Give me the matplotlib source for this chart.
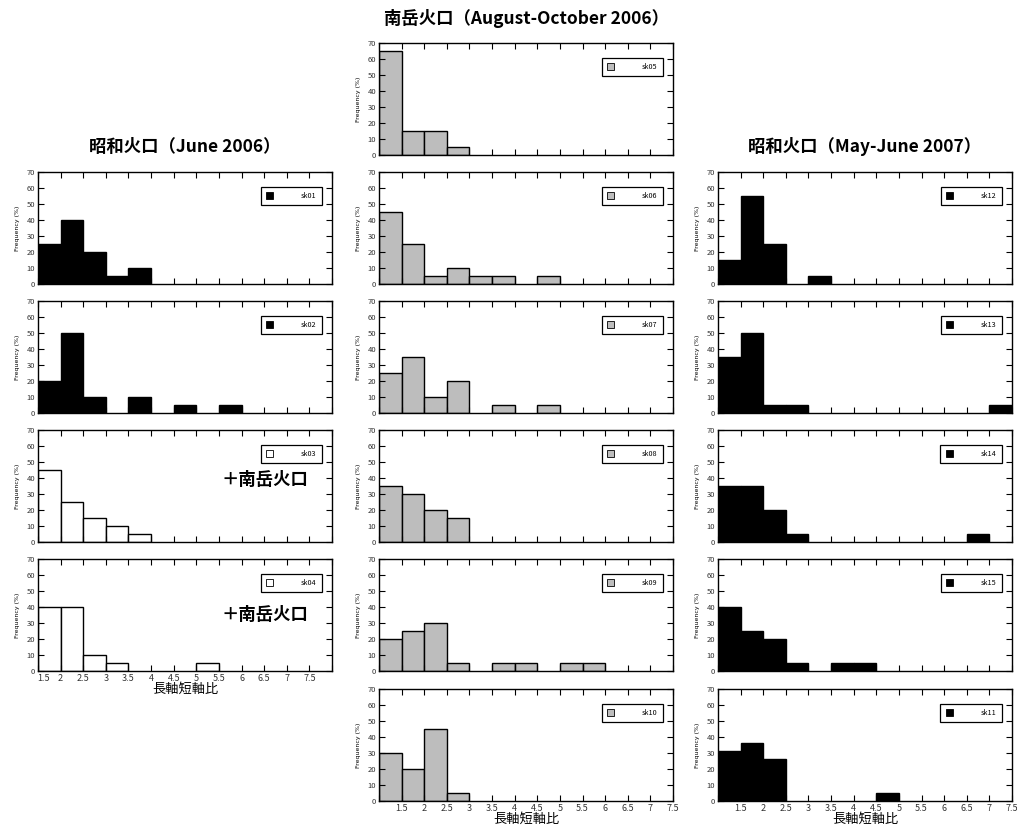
import numpy as np
import matplotlib.pyplot as plt
import matplotlib.transforms as mtransforms
from matplotlib.patches import Patch

plt.rcParams['font.family'] = ['Noto Sans CJK JP', 'DejaVu Sans']

# frequencies (%) per 0.5 bin, showa 2006 bins start at 1.5, others at 1.0
sk01 = [25, 40, 20, 5, 10]
sk02 = [20, 50, 10, 0, 10, 0, 5, 0, 5]
sk03 = [45, 25, 15, 10, 5]
sk04 = [40, 40, 10, 5, 0, 0, 0, 5]

sk05 = [65, 15, 15, 5]
sk06 = [45, 25, 5, 10, 5, 5, 0, 5]
sk07 = [25, 35, 10, 20, 0, 5, 0, 5]
sk08 = [35, 30, 20, 15]
sk09 = [20, 25, 30, 5, 0, 5, 5, 0, 5, 5]
sk10 = [30, 20, 45, 5]

sk12 = [15, 55, 25, 0, 5]
sk13 = [35, 50, 5, 5, 0, 0, 0, 0, 0, 0, 0, 0, 5]
sk14 = [35, 35, 20, 5, 0, 0, 0, 0, 0, 0, 0, 5]
sk15 = [40, 25, 20, 5, 0, 5, 5]
sk11 = [31, 36, 26, 0, 0, 0, 0, 5]

left = [("sk01", sk01), ("sk02", sk02), ("sk03", sk03), ("sk04", sk04)]
left_col = ["black", "black", "white", "white"]
mid = [("sk05", sk05), ("sk06", sk06), ("sk07", sk07), ("sk08", sk08), ("sk09", sk09), ("sk10", sk10)]
right = [("sk12", sk12), ("sk13", sk13), ("sk14", sk14), ("sk15", sk15), ("sk11", sk11)]

W, H = 1017, 832
fig = plt.figure(figsize=(W/100, H/100), dpi=100)

row_tops = [43, 172, 301, 430, 559, 689]
ph = 112
pw = 294

def panel(x0, top, name, vals, color, start, xmax, labels):
    ax = fig.add_axes([x0/W, 1-(top+ph)/H, pw/W, ph/H])
    edges = start + 0.5*np.arange(len(vals))
    v = np.array(vals)
    m = v > 0
    ax.bar(edges[m], v[m], width=0.5, align='edge', color=color, edgecolor='black', linewidth=1.0)
    ax.set_xlim(start, xmax)
    ax.set_ylim(0, 70)
    ax.set_yticks(np.arange(0, 71, 10))
    xt = np.arange(start, xmax+0.01, 0.5)
    ax.set_xticks(xt)
    if labels:
        lab = [("%g" % t) if (t >= 1.5 and t <= 7.5) else "" for t in xt]
        ax.set_xticklabels(lab)
        ax.set_xlabel("長軸短軸比", fontsize=9.5, labelpad=0)
    else:
        ax.set_xticklabels([])
    ax.tick_params(direction='in', top=True, right=True, length=4, width=0.8,
                   labelsize=5.5, pad=2, colors='black', labelcolor='#333333')
    ax.tick_params(axis='x', labelsize=6.5)
    for s in ax.spines.values():
        s.set_linewidth(1.0)
    ax.set_ylabel("Frequency (%)", fontsize=4.5, labelpad=5, family='DejaVu Sans')
    leg = ax.legend(handles=[Patch(facecolor=color, edgecolor='black', linewidth=0.6, label=name)],
                    loc='upper right', bbox_to_anchor=(0.965, 0.87), fontsize=5.2,
                    fancybox=False, edgecolor='black', framealpha=1,
                    handlelength=1.0, handleheight=1.0, handletextpad=3.8,
                    borderpad=0.75, borderaxespad=0)
    leg.get_frame().set_linewidth(0.9)
    return ax

for i, (n, v) in enumerate(left):
    ax = panel(38, row_tops[i+1], n, v, left_col[i], 1.5, 8.0, i == 3)
    if i >= 2:
        ax.text(0.625, 0.55 if i == 2 else 0.5, "＋南岳火口", transform=ax.transAxes,
                fontsize=12.5, fontweight='bold', ha='left', va='center')
    if i == 3:
        # first tick label sits a bit right of the axis corner
        off = mtransforms.ScaledTranslation(4/72, 0, fig.dpi_scale_trans)
        lbl = ax.get_xticklabels()[0]
        lbl.set_transform(lbl.get_transform() + off)

for i, (n, v) in enumerate(mid):
    panel(379, row_tops[i], n, v, "#bdbdbd", 1.0, 7.5, i == 5)

for i, (n, v) in enumerate(right):
    panel(718, row_tops[i+1], n, v, "black", 1.0, 7.5, i == 4)

fig.text(527/W, 1-18/H, "南岳火口（August-October 2006）", ha='center', va='center',
         fontsize=12.5, fontweight='bold')
fig.text(185/W, 1-147/H, "昭和火口（June 2006）", ha='center', va='center',
         fontsize=12.5, fontweight='bold')
fig.text(865/W, 1-147/H, "昭和火口（May-June 2007）", ha='center', va='center',
         fontsize=12.5, fontweight='bold')

fig.savefig("out.png", dpi=100)
